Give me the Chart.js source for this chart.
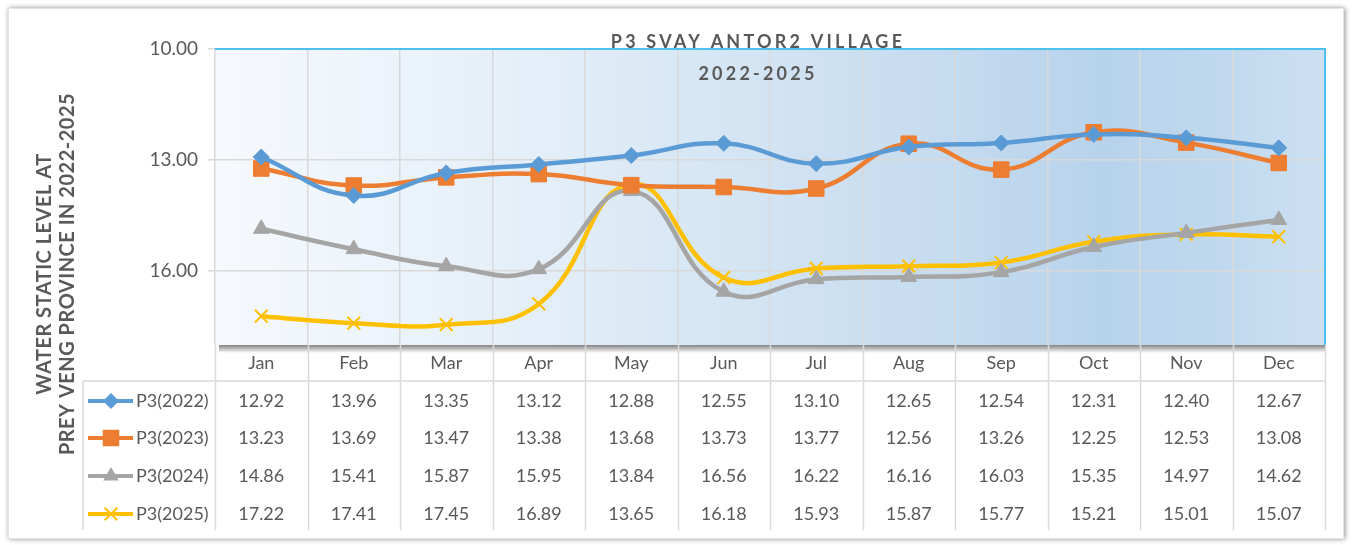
<!DOCTYPE html>
<html>
<head>
<meta charset="utf-8">
<script src="https://cdn.jsdelivr.net/npm/chart.js@4.4.1/dist/chart.umd.min.js"></script>
<style>
  body { margin: 0; background: #fff; }
  #wrap { width: 1353px; height: 545px; }
</style>
</head>
<body>
<div id="wrap"><canvas id="myChart" width="1353" height="545"></canvas></div>
<script>
// values
const months = ["Jan", "Feb", "Mar", "Apr", "May", "Jun", "Jul", "Aug", "Sep", "Oct", "Nov", "Dec"];
const p2022 = [12.92, 13.96, 13.35, 13.12, 12.88, 12.55, 13.10, 12.65, 12.54, 12.31, 12.40, 12.67];
const p2023 = [13.23, 13.69, 13.47, 13.38, 13.68, 13.73, 13.77, 12.56, 13.26, 12.25, 12.53, 13.08];
const p2024 = [14.86, 15.41, 15.87, 15.95, 13.84, 16.56, 16.22, 16.16, 16.03, 15.35, 14.97, 14.62];
const p2025 = [17.22, 17.41, 17.45, 16.89, 13.65, 16.18, 15.93, 15.87, 15.77, 15.21, 15.01, 15.07];
const seriesNames = ["P3(2022)", "P3(2023)", "P3(2024)", "P3(2025)"];
const yTicks = [10, 13, 16];
const titleLines = ["P3 SVAY ANTOR2 VILLAGE", "2022-2025"];
const yTitleLines = ["WATER STATIC LEVEL AT", "PREY VENG PROVINCE IN 2022-2025"];

const colors = ["#5b9bd5", "#ed7d31", "#a5a5a5", "#ffc000"];
const markers = ["rectRot", "rect", "triangle", "crossRot"];
const markerSize = [8, 11, 9, 9];
const textColor = "#595959";
const gridColor = "#d9d9d9";
const font = "Lato, 'Open Sans', sans-serif";

const allSeries = [p2022, p2023, p2024, p2025];

// small marker painter for the legend keys in the table
function drawKey(ctx, style, x, y, r, color) {
  ctx.save();
  ctx.fillStyle = color;
  ctx.strokeStyle = color;
  ctx.beginPath();
  if (style === "rectRot") {
    ctx.moveTo(x, y - r); ctx.lineTo(x + r, y); ctx.lineTo(x, y + r); ctx.lineTo(x - r, y);
    ctx.closePath(); ctx.fill();
  } else if (style === "rect") {
    const s = r * 0.75;
    ctx.rect(x - s, y - s, 2 * s, 2 * s); ctx.fill();
  } else if (style === "triangle") {
    ctx.moveTo(x, y - r); ctx.lineTo(x + r * 0.87, y + r * 0.5); ctx.lineTo(x - r * 0.87, y + r * 0.5);
    ctx.closePath(); ctx.fill();
  } else {
    const d = r * 0.7;
    ctx.lineWidth = 2;
    ctx.moveTo(x - d, y - d); ctx.lineTo(x + d, y + d);
    ctx.moveTo(x + d, y - d); ctx.lineTo(x - d, y + d);
    ctx.stroke();
  }
  ctx.restore();
}

const framePlugin = {
  id: "framePlugin",
  beforeDraw(chart) {
    const ctx = chart.ctx;
    const a = chart.chartArea;
    ctx.save();
    ctx.fillStyle = "#fff";
    ctx.fillRect(0, 0, chart.width, chart.height);
    // outer frame with soft shadow
    ctx.shadowColor = "rgba(0,0,0,0.45)";
    ctx.shadowBlur = 5;
    ctx.shadowOffsetX = 1;
    ctx.fillStyle = "#fff";
    ctx.fillRect(8, 8, 1336, 531);
    ctx.shadowColor = "transparent";
    ctx.strokeStyle = "#e3e3e3";
    ctx.lineWidth = 1;
    ctx.strokeRect(8.5, 8.5, 1335, 530);
    // plot area fill
    const g = ctx.createLinearGradient(a.left, 0, a.right, 0);
    g.addColorStop(0, "#f6f9fd");
    g.addColorStop(0.3, "#e3eef8");
    g.addColorStop(0.45, "#d6e6f4");
    g.addColorStop(0.62, "#c9ddf0");
    g.addColorStop(0.8, "#b7d3ec");
    g.addColorStop(0.9, "#bfd8ee");
    g.addColorStop(1, "#cde0f2");
    ctx.fillStyle = g;
    ctx.fillRect(a.left, a.top, a.right - a.left, a.bottom - a.top);
    ctx.restore();
  },
  afterDraw(chart) {
    const ctx = chart.ctx;
    const a = chart.chartArea;
    const x = chart.scales.x;
    const colW = (a.right - a.left) / months.length;
    ctx.save();

    // cyan top and right edge of plot area
    ctx.strokeStyle = "#4fc1ee";
    ctx.lineWidth = 2;
    ctx.beginPath();
    ctx.moveTo(a.left, a.top); ctx.lineTo(a.right, a.top); ctx.lineTo(a.right, a.bottom);
    ctx.stroke();

    // shadow under plot area
    const sg = ctx.createLinearGradient(0, a.bottom, 0, a.bottom + 8);
    sg.addColorStop(0, "rgba(90,90,90,0.75)");
    sg.addColorStop(1, "rgba(90,90,90,0)");
    ctx.fillStyle = sg;
    ctx.fillRect(a.left + 4, a.bottom, a.right - a.left - 4, 8);

    // table grid
    const tableTop = a.bottom;
    const rowLine = 381;
    const tableBottom = 530;
    ctx.strokeStyle = gridColor;
    ctx.lineWidth = 1.5;
    ctx.beginPath();
    for (let k = 0; k <= months.length; k++) {
      const px = Math.round(a.left + k * colW) + 0.5;
      ctx.moveTo(px, tableTop); ctx.lineTo(px, tableBottom);
    }
    ctx.moveTo(83, rowLine); ctx.lineTo(83, tableBottom);
    ctx.moveTo(83, rowLine); ctx.lineTo(a.right, rowLine);
    ctx.stroke();

    // month labels
    ctx.fillStyle = textColor;
    ctx.font = "18px " + font;
    ctx.textAlign = "center";
    ctx.textBaseline = "middle";
    months.forEach((m, i) => ctx.fillText(m, x.getPixelForValue(i), 363));

    // data rows with legend keys
    const rowY = [401, 438, 476, 514];
    allSeries.forEach((vals, s) => {
      const y = rowY[s];
      ctx.strokeStyle = colors[s];
      ctx.lineWidth = 4;
      ctx.beginPath();
      ctx.moveTo(88, y); ctx.lineTo(133, y);
      ctx.stroke();
      drawKey(ctx, markers[s], 111, y, markerSize[s], colors[s]);
      ctx.fillStyle = textColor;
      ctx.textAlign = "left";
      ctx.fillText(seriesNames[s], 136, y);
      ctx.textAlign = "center";
      vals.forEach((v, i) => ctx.fillText(v.toFixed(2), x.getPixelForValue(i), y));
    });

    // chart title
    ctx.font = "bold 18px " + font;
    ctx.letterSpacing = "3.2px";
    ctx.textAlign = "center";
    ctx.textBaseline = "alphabetic";
    ctx.fillText(titleLines[0], 758, 48);
    ctx.fillText(titleLines[1], 758, 80);

    // y axis title, two rotated lines
    ctx.letterSpacing = "0.5px";
    ctx.font = "bold 20px " + font;
    ctx.translate(0, 274);
    ctx.rotate(-Math.PI / 2);
    ctx.textBaseline = "middle";
    ctx.fillText(yTitleLines[0], 0, 45);
    ctx.fillText(yTitleLines[1], 0, 68);
    ctx.restore();
  }
};

const datasets = allSeries.map((vals, s) => ({
  label: seriesNames[s],
  data: vals,
  borderColor: colors[s],
  backgroundColor: colors[s],
  borderWidth: 4.5,
  tension: 0.45,
  pointStyle: markers[s],
  pointRadius: markerSize[s],
  pointBorderWidth: s === 3 ? 2 : 1,
  pointBorderColor: colors[s],
  pointBackgroundColor: colors[s],
  fill: false
}));

const ctx = document.getElementById("myChart").getContext("2d");
const chart = new Chart(ctx, {
  type: "line",
  data: { labels: months, datasets: datasets },
  options: {
    responsive: false,
    animation: false,
    events: [],
    layout: { padding: { top: 49, right: 28, left: 0, bottom: 0 } },
    plugins: {
      legend: { display: false },
      title: { display: false },
      tooltip: { enabled: false }
    },
    scales: {
      x: {
        offset: true,
        ticks: { display: false },
        grid: { offset: true, color: gridColor, lineWidth: 1.5, drawTicks: false },
        border: { display: false },
        afterFit(scale) { scale.height = 200; }
      },
      y: {
        reverse: true,
        min: 10,
        max: 18,
        afterBuildTicks(scale) { scale.ticks = yTicks.map(v => ({ value: v })); },
        ticks: {
          color: textColor,
          font: { family: font, size: 19 },
          padding: 10,
          callback: v => Number(v).toFixed(2)
        },
        grid: { color: gridColor, lineWidth: 1.5, tickLength: 7 },
        border: { display: false },
        afterFit(scale) { scale.width = 215; }
      }
    }
  },
  plugins: [framePlugin]
});
</script>
</body>
</html>
